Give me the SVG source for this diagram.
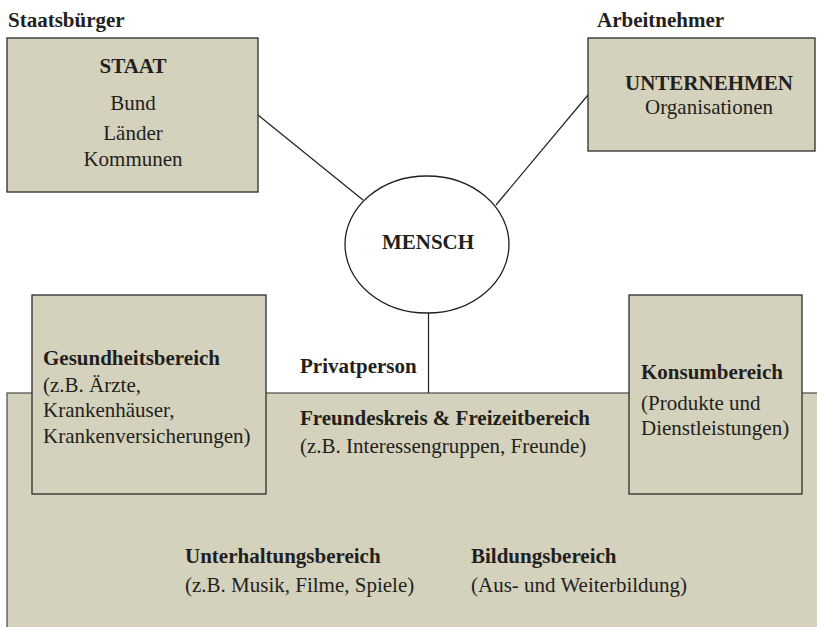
<svg xmlns="http://www.w3.org/2000/svg" width="817" height="627" viewBox="0 0 817 627">
<style>
text{font-family:"Liberation Serif","Times New Roman",serif;font-size:21px;fill:#231f20}
.b{font-weight:bold}
.c{text-anchor:middle}
.box{fill:#d4d2bc;stroke:#2b2b2b;stroke-width:1.3}
.con{stroke:#231f20;stroke-width:1.2;fill:none}
</style>
<rect width="817" height="627" fill="#ffffff"/>
<g id="privatbereich">
<rect class="box" x="7" y="393" width="830" height="260" style="stroke:#555"/>
<text class="b" x="300" y="425">Freundeskreis &amp; Freizeitbereich</text>
<text x="300" y="453">(z.B. Interessengruppen, Freunde)</text>
</g>
<g id="unterhaltung">
<text class="b" x="185" y="563">Unterhaltungsbereich</text>
<text x="185" y="592">(z.B. Musik, Filme, Spiele)</text>
</g>
<g id="bildung">
<text class="b" x="471" y="563">Bildungsbereich</text>
<text x="471" y="592">(Aus- und Weiterbildung)</text>
</g>
<g id="connectors">
<line class="con" x1="258" y1="115" x2="363" y2="200"/>
<line class="con" x1="588" y1="95" x2="496" y2="205"/>
<line class="con" x1="428.5" y1="313" x2="428.5" y2="393"/>
</g>
<g id="staat">
<text class="b" x="8" y="27">Staatsbürger</text>
<rect class="box" x="7" y="38" width="251" height="154"/>
<text class="b c" x="133" y="73">STAAT</text>
<text class="c" x="133" y="110">Bund</text>
<text class="c" x="133" y="140">Länder</text>
<text class="c" x="133" y="166">Kommunen</text>
</g>
<g id="unternehmen">
<text class="b" x="597" y="27">Arbeitnehmer</text>
<rect class="box" x="588" y="38" width="227" height="113"/>
<text class="b c" x="709" y="90">UNTERNEHMEN</text>
<text class="c" x="709" y="114">Organisationen</text>
</g>
<g id="mensch">
<ellipse cx="427" cy="244.5" rx="82" ry="68.5" fill="#ffffff" stroke="#231f20" stroke-width="1.3"/>
<text class="b c" x="428" y="249">MENSCH</text>
<text class="b" x="300" y="373">Privatperson</text>
</g>
<g id="gesundheit">
<rect class="box" x="32" y="295" width="234" height="199"/>
<text class="b" x="43" y="365">Gesundheitsbereich</text>
<text x="43" y="392">(z.B. Ärzte,</text>
<text x="43" y="417">Krankenhäuser,</text>
<text x="43" y="443">Krankenversicherungen)</text>
</g>
<g id="konsum">
<rect class="box" x="629" y="295" width="173" height="199"/>
<text class="b" x="641" y="379">Konsumbereich</text>
<text x="641" y="410">(Produkte und</text>
<text x="641" y="435">Dienstleistungen)</text>
</g>
</svg>
